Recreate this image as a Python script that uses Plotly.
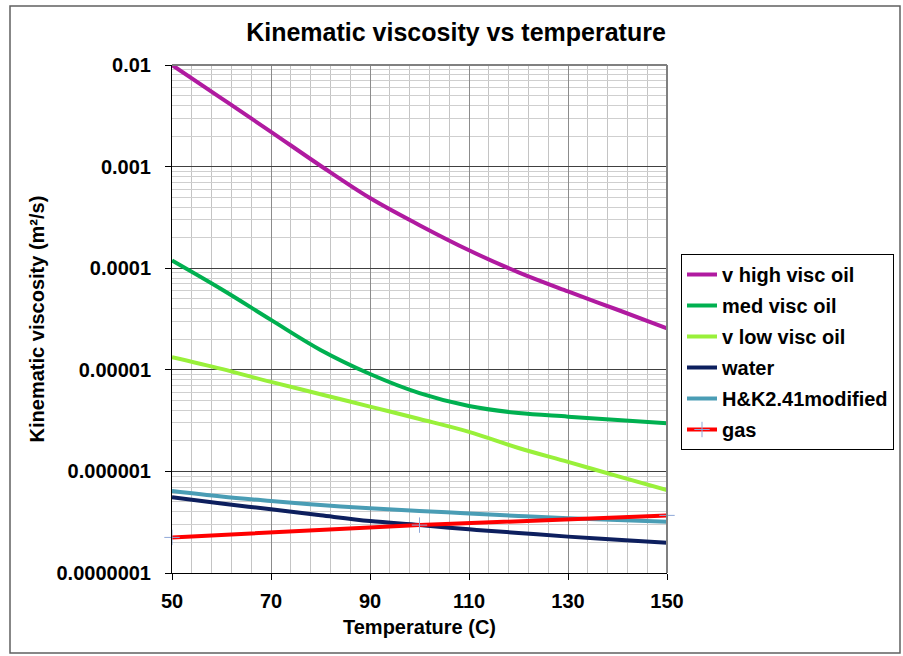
import plotly.graph_objects as go

temps = [50, 60, 70, 80, 90, 100, 110, 120, 130, 140, 150]
v_high = [1.0e-2, 4.7e-3, 2.2e-3, 1.02e-3, 4.9e-4, 2.65e-4, 1.5e-4, 9.1e-5, 5.9e-5, 3.9e-5, 2.56e-5]
v_med = [1.19e-4, 6.2e-5, 3.1e-5, 1.57e-5, 9.1e-6, 5.9e-6, 4.4e-6, 3.75e-6, 3.46e-6, 3.2e-6, 2.97e-6]
v_low = [1.33e-5, 1.02e-5, 7.6e-6, 5.75e-6, 4.34e-6, 3.28e-6, 2.45e-6, 1.7e-6, 1.24e-6, 9.0e-7, 6.56e-7]
water = [5.56e-7, 4.83e-7, 4.24e-7, 3.7e-7, 3.25e-7, 2.97e-7, 2.69e-7, 2.48e-7, 2.28e-7, 2.13e-7, 1.99e-7]
hk = [6.41e-7, 5.66e-7, 5.12e-7, 4.67e-7, 4.34e-7, 4.07e-7, 3.86e-7, 3.64e-7, 3.45e-7, 3.32e-7, 3.2e-7]
gas_t = [50, 100, 150]
gas = [2.24e-7, 2.96e-7, 3.69e-7]

x_ticks = [50, 70, 90, 110, 130, 150]
y_ticks = [1e-7, 1e-6, 1e-5, 1e-4, 1e-3, 1e-2]
y_labels = ["0.0000001", "0.000001", "0.00001", "0.0001", "0.001", "0.01"]

FONT = "Liberation Sans, Arial, sans-serif"

fig = go.Figure()
series = [
    ("v high visc oil", temps, v_high, "#B01AA0"),
    ("med visc oil", temps, v_med, "#00B050"),
    ("v low visc oil", temps, v_low, "#99F03A"),
    ("water", temps, water, "#0D1F5E"),
    ("H&K2.41modified", temps, hk, "#4A9DB5"),
]
for i, (name, xs, ys, col) in enumerate(series):
    fig.add_trace(go.Scatter(x=xs, y=ys, name=name, mode="lines",
                             line=dict(color=col, width=4, shape="spline", smoothing=1.0),
                             legendgroup=str(i)))
fig.add_trace(go.Scatter(x=gas_t, y=gas, name="gas", mode="lines+markers",
                         line=dict(color="#FF0000", width=4),
                         marker=dict(symbol="cross-thin-open", size=11, color="#8FA8D8",
                                     line=dict(width=1, color="#8FA8D8")),
                         legendgroup="5", cliponaxis=False))

fig.update_layout(
    width=903, height=656,
    margin=dict(l=172, r=236, t=65, b=83, autoexpand=False),
    paper_bgcolor="white", plot_bgcolor="white",
    font=dict(family=FONT, size=20, color="black", weight="bold"),
    title=dict(text="Kinematic viscosity vs temperature", xref="paper", x=(456 - 172) / 495,
               font=dict(size=25, family=FONT, weight="bold"), y=0.951, yanchor="middle",
               xanchor="center"),
    showlegend=True,
    legend=dict(x=(681 - 172) / 495, y=(573 - 254) / 508, xanchor="left", yanchor="top",
                bordercolor="black", borderwidth=1, bgcolor="white",
                font=dict(size=20, family=FONT, weight="bold"),
                tracegroupgap=2, traceorder="grouped", itemwidth=30),
)

fig.update_xaxes(range=[50, 150], tickvals=x_ticks, ticks="outside", ticklen=6,
                 tickcolor="black", showline=True, linecolor="black", linewidth=1,
                 showgrid=True, gridcolor="#8C8C8C", gridwidth=1,
                 minor=dict(dtick=4, tick0=50, showgrid=True, gridcolor="#C4C4C4", gridwidth=1),
                 title=dict(text="Temperature (C)", font=dict(size=20, family=FONT, weight="bold"), standoff=8),
                 tickfont=dict(size=20, family=FONT, weight="bold"), ticklabelstandoff=4, zeroline=False)
fig.update_yaxes(type="log", range=[-7, -2], tickvals=y_ticks, ticktext=y_labels,
                 ticks="outside", ticklen=6, tickcolor="black",
                 showline=True, linecolor="black", linewidth=1,
                 showgrid=True, gridcolor="#404040", gridwidth=1,
                 minor=dict(dtick="D1", showgrid=True, gridcolor="#CFCFCF", gridwidth=1, ticks=""),
                 title=dict(text="Kinematic viscosity (m²/s)", font=dict(size=20, family=FONT, weight="bold"), standoff=6),
                 tickfont=dict(size=20, family=FONT, weight="bold"), ticklabelstandoff=10, zeroline=False)

# plot-area border top/right
fig.add_shape(type="line", xref="paper", yref="paper", x0=0, x1=1, y0=1, y1=1,
              line=dict(color="#808080", width=2), layer="above")
fig.add_shape(type="line", xref="paper", yref="paper", x0=1, x1=1, y0=0, y1=1,
              line=dict(color="#808080", width=2), layer="above")
# outer chart border
fig.add_shape(type="rect", xref="paper", yref="paper",
              x0=(10 - 172) / 495, x1=(900 - 172) / 495,
              y0=(573 - 653) / 508, y1=(573 - 6) / 508,
              line=dict(color="#606060", width=1.5), layer="below")

fig.write_html("out.html")
